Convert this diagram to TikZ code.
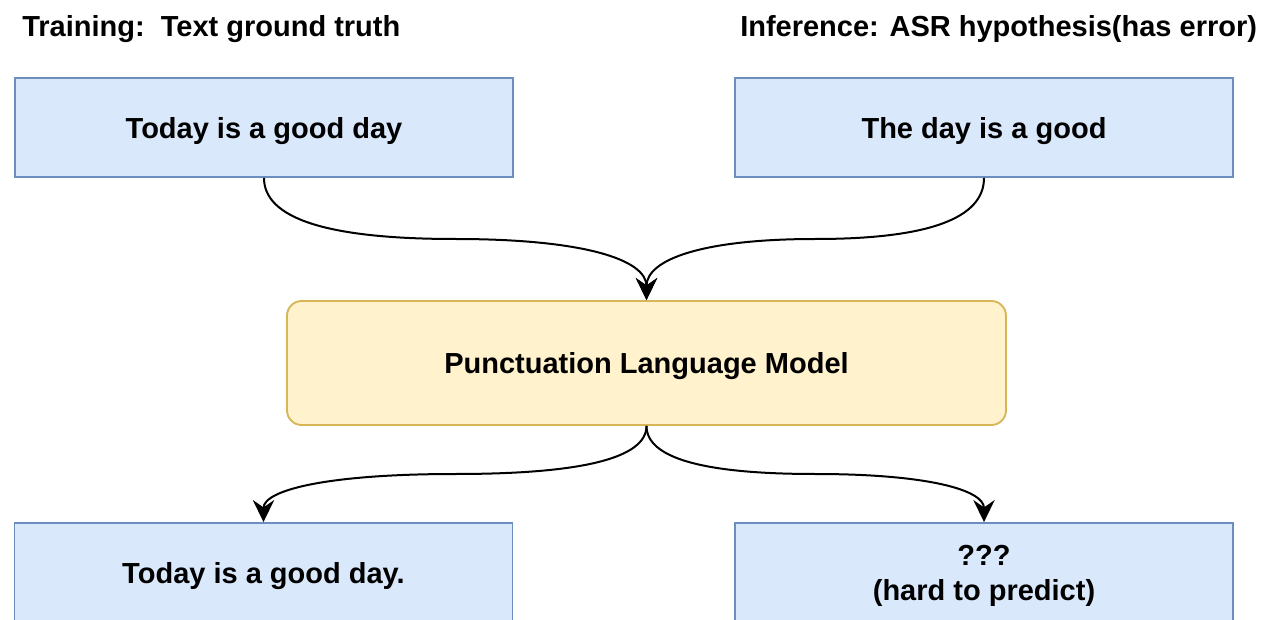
\documentclass[tikz,border=0pt]{standalone}
\usepackage{fontspec}
\setmainfont{Liberation Sans}
\usetikzlibrary{arrows.meta,calc}

\definecolor{boxblue}{HTML}{DAE8FC}
\definecolor{edgeblue}{HTML}{6C8EBF}
\definecolor{boxyellow}{HTML}{FFF2CC}
\definecolor{edgeyellow}{HTML}{D6B656}

\tikzset{
  txt/.style={font=\fontsize{21.75pt}{26.25pt}\selectfont\bfseries, text=black},
  bluebox/.style={txt, draw=edgeblue, fill=boxblue, line width=1.4pt,
    minimum width=373.5pt, minimum height=74.25pt, inner sep=0pt,
    text depth=0pt, align=center},
  modelbox/.style={txt, draw=edgeyellow, fill=boxyellow, line width=1.4pt,
    rounded corners=11pt, minimum width=539.25pt, minimum height=93pt,
    inner sep=0pt, text depth=0pt},
  caption/.style={txt, anchor=base west, inner sep=0pt},
  link/.style={line width=1.5pt, black,
    -{Stealth[length=16.5pt, width=16pt, inset=5.5pt]}}
}

% elbow-shaped connector smoothed into two quadratic arcs
\newcommand{\elbowlink}[2]{%
  \coordinate (mid) at ($(#1)!0.5!(#2)$);
  \coordinate (ca) at (#1 |- mid);
  \coordinate (cb) at (#2 |- mid);
  \draw[link] (#1) .. controls ($(#1)!0.6667!(ca)$) and ($(mid)!0.6667!(ca)$) .. (mid)
    .. controls ($(mid)!0.6667!(cb)$) and ($(#2)!0.6667!(cb)$) .. (#2);
}

\begin{document}
\begin{tikzpicture}[x=0.75pt, y=-0.75pt]
  \useasboundingbox (0,0) rectangle (1271,620);
  \clip (0,0) rectangle (1271,620);

  % headings
  \node[caption] (trainlbl) at (22,37) {Training:\ \ Text ground truth};
  \node[caption] (inflbl) at (740,37) {Inference: ASR hypothesis(has error)};

  % inputs
  \node[bluebox] (truth) at (264,127.5) {Today is a good day};
  \node[bluebox] (hyp) at (984,127.5) {The day is a good};

  % model
  \node[modelbox] (model) at (646.5,363) {Punctuation Language Model};

  % outputs
  \node[bluebox] (good) at (263.5,572.5) {Today is a good day.};
  \node[bluebox] (bad) at (984,572.5) {???\\(hard to predict)};

  % connectors
  \elbowlink{truth.south}{model.north}
  \elbowlink{hyp.south}{model.north}
  \elbowlink{model.south}{good.north}
  \elbowlink{model.south}{bad.north}
\end{tikzpicture}
\end{document}
